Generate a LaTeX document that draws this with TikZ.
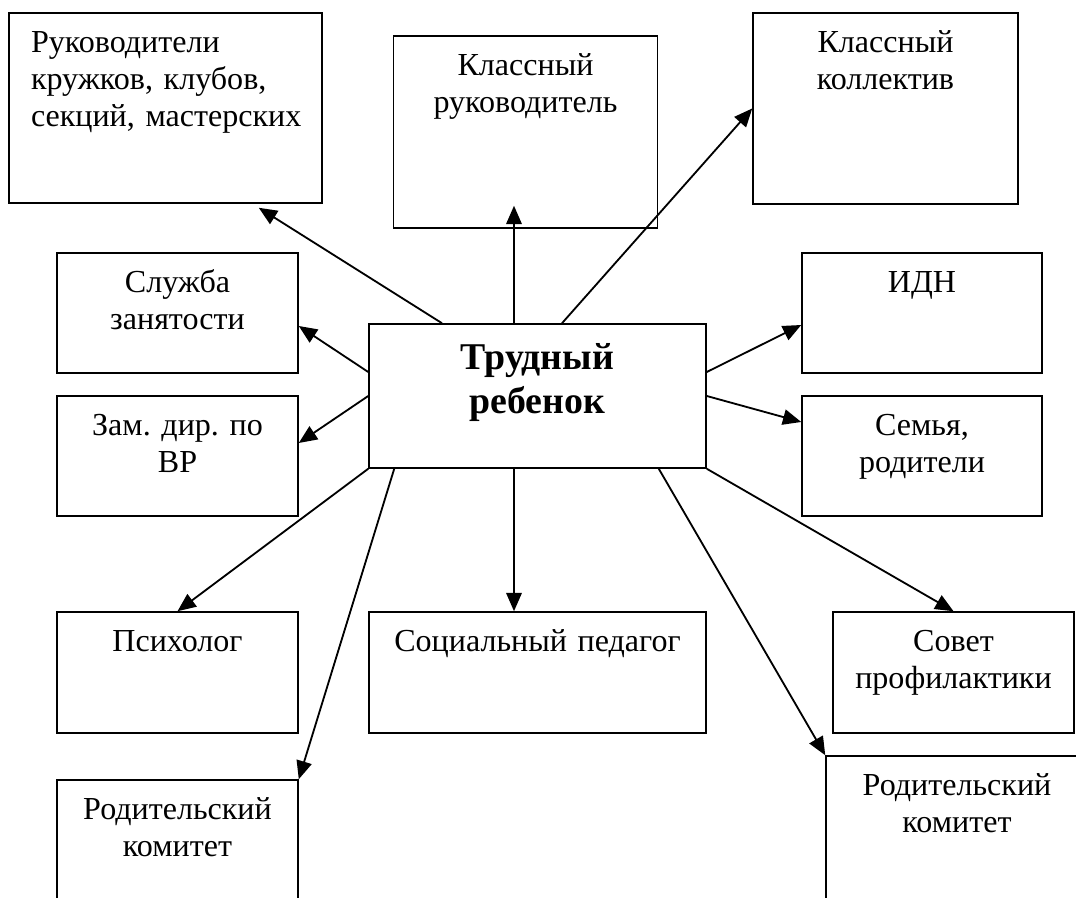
\documentclass[tikz,border=0pt]{standalone}
\usepackage{fontspec}
\setmainfont{Liberation Serif}
\usetikzlibrary{arrows.meta}
\frenchspacing

\begin{document}
\begin{tikzpicture}
  \tikzset{box/.style 2 args = {shape=rectangle,draw,line width=1.1pt,inner sep=0pt,text width=#1,text height=1cm,text depth=#2,align=center,font=\fontsize{22.8}{26}\selectfont}}
  \tikzset{mainbox/.style = {text height=1.15cm,font=\fontsize{26.9}{30.6}\selectfont\bfseries}}
  \tikzset{edge/.style = {-{Triangle[length=13pt,width=11pt]},line width=1.3pt}}

  \useasboundingbox (0,0) rectangle (26.9,22.425);
  \clip (0,0) rectangle (26.9,22.425);

	\node[box={6.725cm}{3.75cm},align=left,inner xsep=0.55cm] (kruzhki) at (4.1375,19.725) {Руководители\\кружков, клубов,\\секций,~мастерских};
	\node[box={6.6cm}{3.8cm}] (klruk) at (13.1375,19.125) {Классный\\руководитель};
	\node[box={6.625cm}{3.775cm}] (klkol) at (22.1375,19.7125) {Классный\\коллектив};

	\node[box={6.025cm}{2cm}] (sluzhba) at (4.4375,14.6) {Служба\\занятости};
	\node[box={6cm}{2cm}] (idn) at (23.05,14.6) {ИДН};

	\node[box={8.425cm}{2.45cm},mainbox] (trud) at (13.4375,12.525) {Трудный\\ребенок};

	\node[box={6.025cm}{2cm}] (zam) at (4.4375,11.025) {Зам. дир. по\\ВР};
	\node[box={6cm}{2cm}] (semya) at (23.05,11.025) {Семья,\\родители};

	\node[box={6.025cm}{2.025cm}] (psych) at (4.4375,5.6125) {Психолог};
	\node[box={8.425cm}{2.025cm}] (socped) at (13.4375,5.6125) {Социальный педагог};
	\node[box={6.025cm}{2.025cm}] (sovet) at (23.8375,5.6125) {Совет\\профилактики};

	% bottom boxes run off the page
	\node[box={6.025cm}{3cm}] (rodkomL) at (4.4375,0.925) {Родительский\\комитет};
	\node[box={6.55cm}{3cm}] (rodkomR) at (23.925,1.525) {Родительский\\комитет};

	% up
	\draw[edge] ([xshift=-2.3875cm]trud.north) -- ([xshift=-1.6cm,yshift=-0.1cm]kruzhki.south east);
	\draw[edge] ([xshift=-0.5875cm]trud.north) -- ([xshift=-0.2875cm,yshift=0.575cm]klruk.south);
	\draw[edge] ([xshift=0.6125cm]trud.north) -- (klkol.west);

	% sides
	\draw[edge] ([yshift=0.6cm]trud.west) -- ([yshift=-0.325cm]sluzhba.east);
	\draw[edge] (trud.west) -- ([yshift=0.325cm]zam.east);
	\draw[edge] ([yshift=0.6cm]trud.east) -- ([yshift=-0.3cm]idn.west);
	\draw[edge] (trud.east) -- ([yshift=0.85cm]semya.west);

	% down
    \foreach \from/\to in {trud.south west/psych.north, trud.south east/sovet.north}
    \path[edge] (\from) edge (\to);
	\draw[edge] ([xshift=0.65cm]trud.south west) -- (rodkomL.north east);
	\draw[edge] ([xshift=-0.5875cm]trud.south) -- ([xshift=-0.5875cm]socped.north);
	\draw[edge] ([xshift=-1.2cm]trud.south east) -- (rodkomR.north west);

\end{tikzpicture}
\end{document}
